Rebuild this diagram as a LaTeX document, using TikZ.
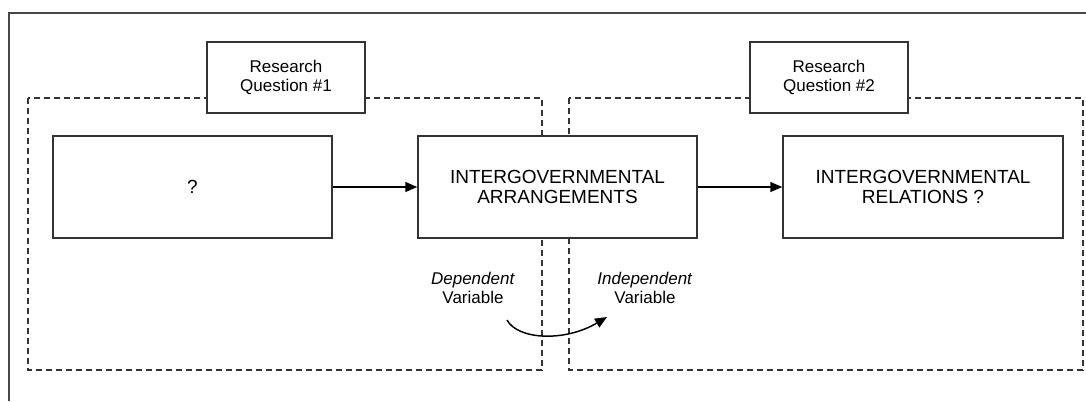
\documentclass[tikz,border=0pt]{standalone}
\usepackage{fontspec}
\setmainfont{Liberation Sans}
\usetikzlibrary{arrows.meta}
\definecolor{ink}{HTML}{333333}
\tikzset{
  box/.style={draw=ink, line width=1.1pt, fill=white, align=center, inner sep=0pt, font=\fontsize{14.25pt}{15pt}\selectfont},
  rqbox/.style={draw=ink, line width=1.1pt, fill=white, align=center, inner sep=0pt, minimum width=118.5pt, minimum height=53.25pt, font=\fontsize{12.75pt}{14.5pt}\selectfont},
  group/.style={draw=ink, line width=0.9pt, dash pattern=on 4.5pt off 3pt},
  frameline/.style={draw=ink!90, line width=1.5pt},
  flow/.style={draw=black, line width=1.1pt, -{Triangle[length=9pt, width=7.5pt]}},
  varlabel/.style={align=center, inner sep=0pt, font=\fontsize{12.75pt}{14.5pt}\selectfont}
}
\begin{document}
\begin{tikzpicture}[x=0.75pt, y=-0.75pt]
\useasboundingbox (0,0) rectangle (1086,401);
% outer frame (only top and left visible)
\draw[frameline] (9,401) -- (9,13) -- (1086,13);
% dashed groups
\draw[group] (28,98) rectangle (542,370);
\draw[group] (569,98) rectangle (1083,370);
% research question boxes
\node[rqbox] (rq1) at (286,77.5) {Research\\Question \#1};
\node[rqbox] (rq2) at (829,77.5) {Research\\Question \#2};
% main boxes
\node[box, minimum width=209.25pt, minimum height=76.5pt] (q) at (192.5,187) {?};
\node[box, minimum width=209.25pt, minimum height=76.5pt] (ia) at (557.5,187) {INTERGOVERNMENTAL\\ARRANGEMENTS};
\node[box, minimum width=210pt, minimum height=76.5pt] (ir) at (923,187) {INTERGOVERNMENTAL\\RELATIONS ?};
\draw[flow] (q.east) -- (ia.west);
\draw[flow] (ia.east) -- (ir.west);
% variable labels
\node[varlabel] (dep) at (473,288) {\textit{Dependent}\\Variable};
\node[varlabel] (indep) at (645,288) {\textit{Independent}\\Variable};
\coordinate (cs) at (507,320);
\coordinate (ce) at (607,317);
\draw[flow] (cs) .. controls (518,340) and (565,342) .. (ce);
\end{tikzpicture}
\end{document}
